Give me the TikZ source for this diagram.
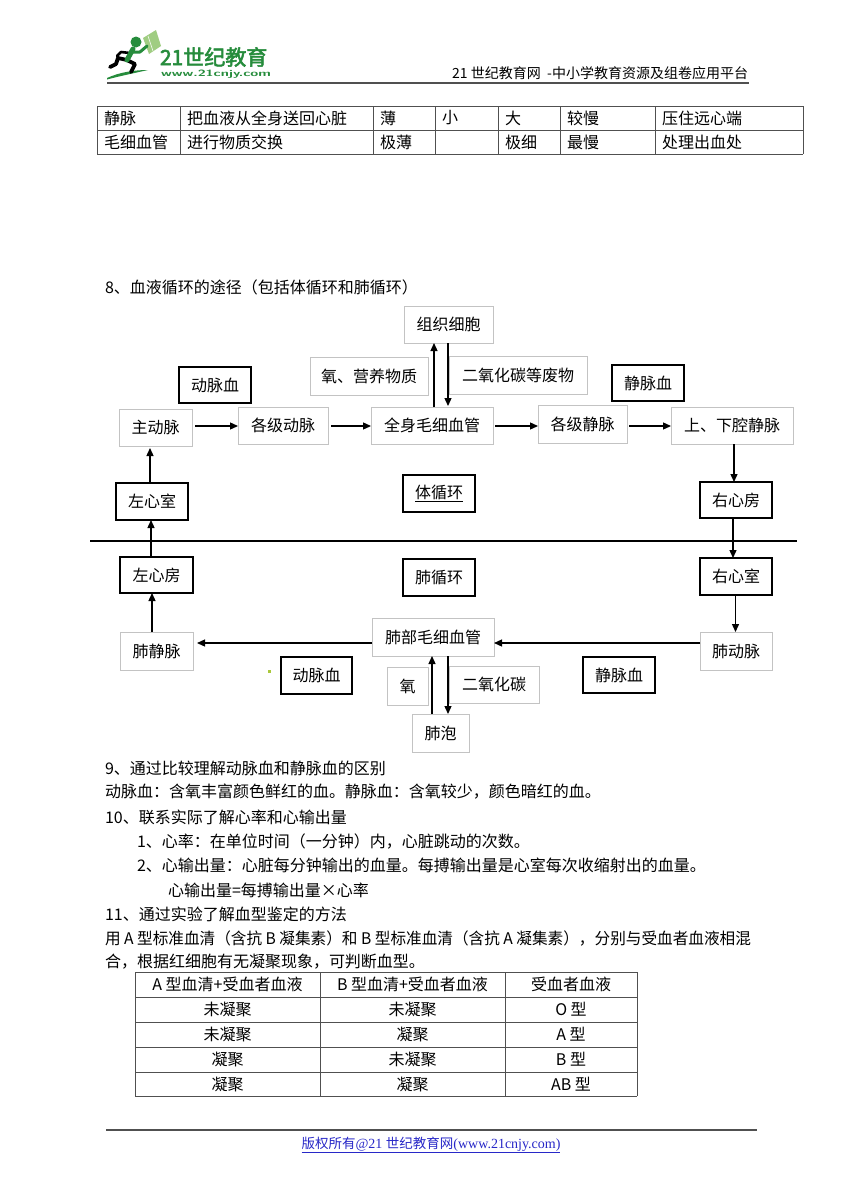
\documentclass[tikz,border=0pt]{standalone}
\usepackage{fontspec}
\setmainfont{Noto Sans CJK SC}
\newfontfamily\tnr{Liberation Serif}
\newfontfamily\logofont[FakeBold=2.5]{Noto Sans CJK SC}
\usepackage{graphicx}
\usetikzlibrary{arrows.meta}
\definecolor{lgray}{RGB}{195,195,195}
\definecolor{tgray}{RGB}{80,80,80}
\definecolor{lgreen}{RGB}{38,140,60}
\definecolor{pgreen}{RGB}{160,205,130}
\definecolor{flink}{RGB}{40,40,200}
\definecolor{dotc}{RGB}{170,200,60}
\begin{document}
\begin{tikzpicture}[x=1pt,y=-1pt,
  every node/.style={inner sep=0pt, outer sep=0pt, font=\fontsize{16}{16}\selectfont},
  lbox/.style={draw=lgray, line width=0.9pt},
  dbox/.style={draw=black, line width=1.4pt},
  arr/.style={line width=1.3pt, -{Triangle[length=8pt,width=7pt]}},
  txt/.style={anchor=west},
  tline/.style={draw=tgray, line width=0.9pt},
  hline/.style={draw=tgray, line width=1.6pt}]
\useasboundingbox (0,0) rectangle (861,1192);
\fill[white] (0,0) rectangle (861,1192);

% ---------- logo ----------
\fill[lgreen] (107,78) .. controls (120,72) and (135,70) .. (148,70) .. controls (135,73) and (120,76) .. (107,79.5) -- cycle;
\fill[pgreen] (143,38) -- (156,30) -- (161,46) -- (149,54) -- cycle;
\draw[white, line width=0.5pt] (148,36) -- (153,51);
\draw[black, line width=3.8pt, line cap=round, line join=round] (110,67) -- (116,64) -- (118,58) -- (127,60) -- (135,64) -- (131,72);
\draw[black, line width=2.6pt, line cap=round, line join=round] (130,53) -- (121,52) -- (117,56);
\draw[lgreen, line width=5pt, line cap=round] (127,60) -- (133,49);
\draw[lgreen, line width=3pt, line cap=round, line join=round] (132,52) -- (140,52) -- (147,46);
\fill[lgreen] (136,42) circle (5.5);
\node[font=\logofont\fontsize{21}{21}\selectfont, text=lgreen, anchor=west] (logotxt) at (160,57) {21世纪教育};
\node[text=lgreen, anchor=west] (logourl) at (161,74) {\resizebox{110pt}{6.5pt}{\sffamily\bfseries www.21cnjy.com}};
\node[anchor=east, font=\fontsize{14}{14}\selectfont] (hdr) at (748,73) {21 世纪教育网\ \ -中小学教育资源及组卷应用平台};
\draw[hline] (107,83) -- (749,83);

% ---------- top table ----------
\foreach \x in {97,180,373,435,498,560,655,803} \draw[tline] (\x,106) -- (\x,154);
\foreach \y in {106,130,154} \draw[tline] (97,\y) -- (803,\y);
\node[txt] (a1) at (104,118) {静脉};
\node[txt] (a2) at (187,118) {把血液从全身送回心脏};
\node[txt] (a3) at (380,118) {薄};
\node[txt] (a4) at (442,118) {小};
\node[txt] (a5) at (505,118) {大};
\node[txt] (a6) at (567,118) {较慢};
\node[txt] (a7) at (662,118) {压住远心端};
\node[txt] (b1) at (104,142) {毛细血管};
\node[txt] (b2) at (187,142) {进行物质交换};
\node[txt] (b3) at (380,142) {极薄};
\node[txt] (b5) at (505,142) {极细};
\node[txt] (b6) at (567,142) {最慢};
\node[txt] (b7) at (662,142) {处理出血处};

% ---------- section 8 ----------
\node[txt] (s8) at (105,287) {8、血液循环的途径（包括体循环和肺循环）};

% systemic boxes
\node[lbox, minimum width=89pt, minimum height=37pt] (zzxb) at (448.5,324.5) {组织细胞};
\node[lbox, minimum width=118pt, minimum height=38pt] (yy) at (369,376) {氧、营养物质};
\node[lbox, minimum width=138pt, minimum height=38pt] (eyht) at (518,375) {二氧化碳等废物};
\node[dbox, minimum width=72pt, minimum height=36pt] (dmx1) at (215,385) {动脉血};
\node[dbox, minimum width=72pt, minimum height=36pt] (jmx1) at (648,383) {静脉血};
\node[lbox, minimum width=73pt, minimum height=37pt] (zdm) at (155.5,427.5) {主动脉};
\node[lbox, minimum width=90pt, minimum height=37pt] (gjdm) at (283,425.5) {各级动脉};
\node[lbox, minimum width=122pt, minimum height=37pt] (qsmx) at (432,425.5) {全身毛细血管};
\node[lbox, minimum width=89pt, minimum height=38pt] (gjjm) at (582.5,424) {各级静脉};
\node[lbox, minimum width=122pt, minimum height=37pt] (sxq) at (732,425.5) {上、下腔静脉};
\node[dbox, minimum width=72pt, minimum height=37pt] (zxs) at (152,501.5) {左心室};
\node[dbox, minimum width=72pt, minimum height=37pt] (txh) at (439,493.5) {\underline{体循环}};
\node[dbox, minimum width=72pt, minimum height=36pt] (yxf) at (736,500) {右心房};

% separator
\draw[line width=2.6pt] (90,541) -- (797,541);

% pulmonary boxes
\node[dbox, minimum width=73pt, minimum height=36pt] (zxf) at (156.5,575) {左心房};
\node[dbox, minimum width=72pt, minimum height=37pt] (fxh) at (439,577.5) {肺循环};
\node[dbox, minimum width=72pt, minimum height=37pt] (yxs) at (736,576.5) {右心室};
\node[lbox, minimum width=73pt, minimum height=38pt] (fjm) at (156.5,651) {肺静脉};
\node[lbox, minimum width=122pt, minimum height=38pt] (fbmx) at (433,637) {肺部毛细血管};
\node[lbox, minimum width=72pt, minimum height=38pt] (fdm) at (736,651) {肺动脉};
\node[dbox, minimum width=71pt, minimum height=37pt] (dmx2) at (316.5,675.5) {动脉血};
\node[dbox, minimum width=72pt, minimum height=36pt] (jmx2) at (619,675) {静脉血};
\node[lbox, minimum width=41pt, minimum height=38pt] (yang) at (407.5,686) {氧};
\node[lbox, minimum width=90pt, minimum height=37pt] (eyh) at (494,684.5) {二氧化碳};
\node[lbox, minimum width=57pt, minimum height=38pt] (fp) at (440.5,733) {肺泡};
\fill[dotc] (268,670) rectangle (270.5,672.5);

% helper coordinates
\coordinate (r1) at (0,426);
\coordinate (r2) at (0,643);
\coordinate (ux) at (434,0);
\coordinate (dx) at (448,0);
\coordinate (pux) at (432,0);
\coordinate (pdx) at (448,0);
\coordinate (l1) at (150,0);
\coordinate (l2) at (151,0);
\coordinate (l3) at (152,0);
\coordinate (rr1) at (734,0);
\coordinate (rr2) at (733,0);
\coordinate (rr3) at (735.5,0);

% systemic arrows
\draw[arr, shorten <=3pt] (zdm.east |- r1) -- (gjdm.west |- r1);
\draw[arr, shorten <=3pt] (gjdm.east |- r1) -- (qsmx.west |- r1);
\draw[arr, shorten <=2pt] (qsmx.east |- r1) -- (gjjm.west |- r1);
\draw[arr, shorten <=2pt] (gjjm.east |- r1) -- (sxq.west |- r1);
\draw[arr] (qsmx.north -| ux) -- (zzxb.south -| ux);
\draw[arr, shorten >=1pt] (zzxb.south -| dx) -- (qsmx.north -| dx);
\draw[arr, shorten >=2pt] (zxs.north -| l1) -- (zdm.south -| l1);
\draw[arr] (sxq.south -| rr1) -- (yxf.north -| rr1);

% heart arrows across separator
\draw[arr] (zxf.north -| l2) -- (zxs.south -| l2);
\draw[arr] (yxf.south -| rr2) -- (yxs.north -| rr2);

% pulmonary arrows
\draw[arr] (fjm.north -| l3) -- (zxf.south -| l3);
\draw[arr] (yxs.south -| rr3) -- (fdm.north -| rr3);
\draw[arr] (fdm.west |- r2) -- (fbmx.east |- r2);
\draw[arr, shorten >=4pt] (fbmx.west |- r2) -- (fjm.east |- r2);
\draw[arr] (fp.north -| pux) -- (fbmx.south -| pux);
\draw[arr] (fbmx.south -| pdx) -- (fp.north -| pdx);

% ---------- text ----------
\node[txt] (p9) at (105,768) {9、通过比较理解动脉血和静脉血的区别};
\node[txt] (p9a) at (105,792) {动脉血：含氧丰富颜色鲜红的血。静脉血：含氧较少，颜色暗红的血。};
\node[txt] (p10) at (105,817) {10、联系实际了解心率和心输出量};
\node[txt] (p10a) at (137,841) {1、心率：在单位时间（一分钟）内，心脏跳动的次数。};
\node[txt] (p10b) at (137,865) {2、心输出量：心脏每分钟输出的血量。每搏输出量是心室每次收缩射出的血量。};
\node[txt] (p10c) at (168,890) {心输出量=每搏输出量×心率};
\node[txt] (p11) at (105,914) {11、通过实验了解血型鉴定的方法};
\node[txt] (p11a) at (105,938) {\scalebox{0.977}[1]{用 A 型标准血清（含抗 B 凝集素）和 B 型标准血清（含抗 A 凝集素），分别与受血者血液相混}};
\node[txt] (p11b) at (105,962) {合，根据红细胞有无凝聚现象，可判断血型。};

% ---------- blood type table ----------
\foreach \x in {135,320,505,637} \draw[tline] (\x,972) -- (\x,1096);
\foreach \y in {972,997,1022,1047,1072,1096} \draw[tline] (135,\y) -- (637,\y);
\node (h1) at (227.5,984.5) {A 型血清+受血者血液};
\node (h2) at (412.5,984.5) {B 型血清+受血者血液};
\node (h3) at (571,984.5) {受血者血液};
\node (c11) at (227.5,1009.5) {未凝聚};
\node (c12) at (412.5,1009.5) {未凝聚};
\node (c13) at (571,1009.5) {O 型};
\node (c21) at (227.5,1034.5) {未凝聚};
\node (c22) at (412.5,1034.5) {凝聚};
\node (c23) at (571,1034.5) {A 型};
\node (c31) at (227.5,1059.5) {凝聚};
\node (c32) at (412.5,1059.5) {未凝聚};
\node (c33) at (571,1059.5) {B 型};
\node (c41) at (227.5,1084) {凝聚};
\node (c42) at (412.5,1084) {凝聚};
\node (c43) at (571,1084) {AB 型};

% ---------- footer ----------
\draw[hline] (106,1130) -- (757,1130);
\node[text=flink, font=\fontsize{13.5}{13.5}\selectfont] (foot) at (431,1145) {\underline{版权所有{\tnr\fontsize{14}{14}\selectfont @21 }世纪教育网{\tnr\fontsize{14}{14}\selectfont (www.21cnjy.com)}}};
\end{tikzpicture}
\end{document}
